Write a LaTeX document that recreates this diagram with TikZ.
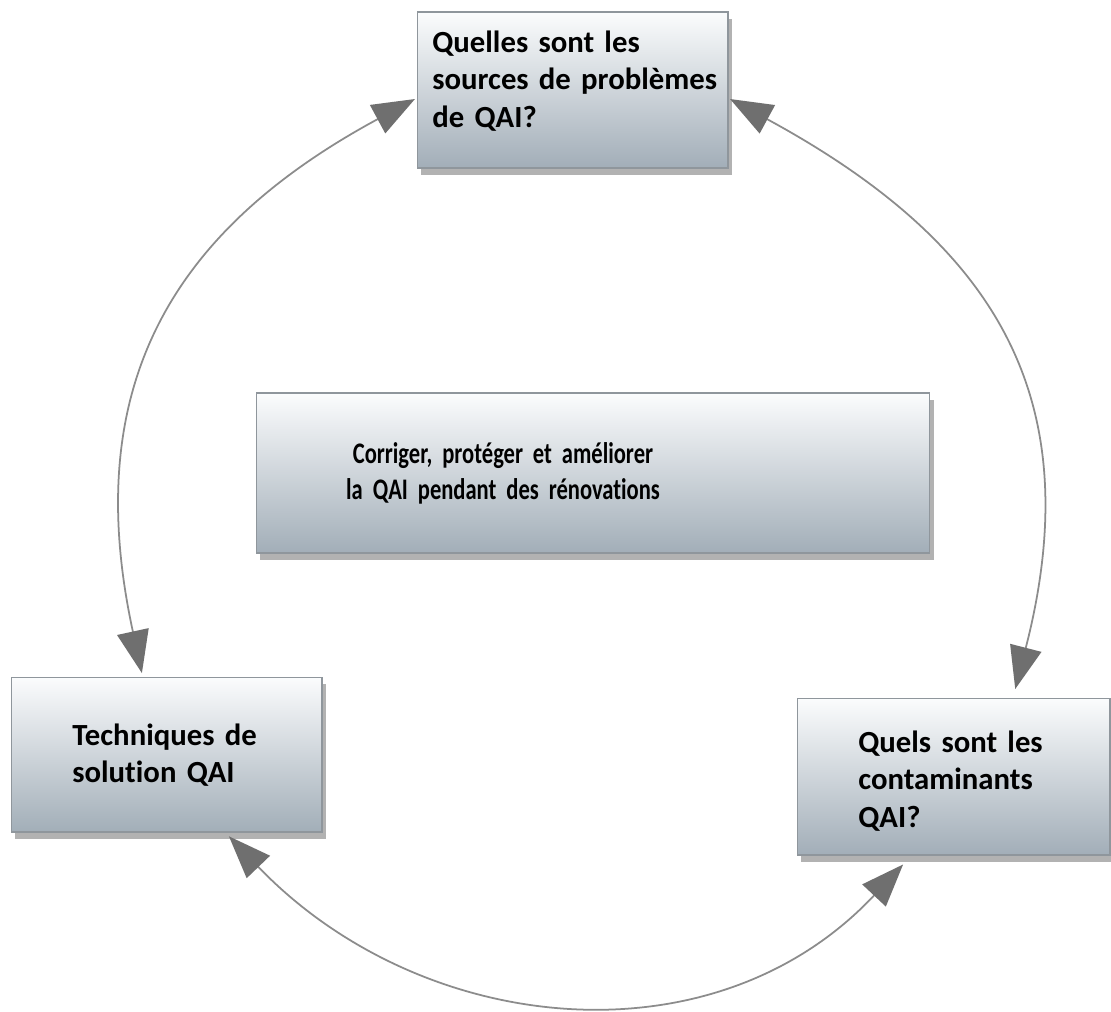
\documentclass[tikz,border=0pt]{standalone}
\usepackage{fontspec}
\setmainfont[Ligatures=NoCommon]{Carlito}
\newfontfamily\narrowfont[FakeStretch=0.755, WordSpace=0.7, Ligatures=NoCommon]{Carlito}
\usetikzlibrary{arrows.meta,shadows}
\definecolor{boxtop}{HTML}{FBFCFD}
\definecolor{boxbottom}{HTML}{A2AEB8}
\definecolor{boxline}{HTML}{8F969C}
\definecolor{arcline}{HTML}{8C8C8C}
\definecolor{tipgray}{HTML}{6F6F6F}

\begin{document}
\begin{tikzpicture}[
    x=0.02cm, y=-0.02cm,
    box/.style={rectangle, draw=boxline, line width=0.6pt,
                top color=boxtop, bottom color=boxbottom,
                drop shadow={shadow xshift=0.08cm, shadow yshift=-0.14cm,
                             fill=black, opacity=0.3},
                inner sep=0pt},
    boxtext/.style={anchor=base west, align=left, text width=6cm, inner sep=0pt,
                    font=\bfseries\fontsize{17.5}{21.6}\selectfont},
    cyc/.style={draw=arcline, line width=1pt,
                {Triangle[length=0.85cm, width=0.64cm, color=tipgray]}-{Triangle[length=0.85cm, width=0.64cm, color=tipgray]}}
]
\useasboundingbox[fill=white] (0,0) rectangle (1111,1011);

% the four boxes
\node[box, minimum width=6.22cm, minimum height=3.12cm] (sources) at (572.5,90) {};
\node[box, minimum width=13.48cm, minimum height=3.2cm] (goal) at (593,473) {};
\node[box, minimum width=6.22cm, minimum height=3.1cm] (solutions) at (166.5,754.5) {};
\node[box, minimum width=6.26cm, minimum height=3.14cm] (contam) at (953.5,776.5) {};

% texts
\node[boxtext] (sourcestext) at (432,52) {Quelles sont les\\sources de problèmes\\de QAI?};
\node[boxtext] (solutionstext) at (72,745) {Techniques de\\solution QAI};
\node[boxtext] (contamtext) at (858,752) {Quels sont les\\contaminants\\QAI?};
\node[anchor=base, align=center, text width=8cm, inner sep=0pt,
      font=\narrowfont\bfseries\fontsize{17}{20.6}\selectfont] (goaltext) at (503,463)
      {Corriger, protéger et améliorer\\la QAI pendant des rénovations};

% the cycle
\draw[cyc, shorten <=1pt, shorten >=2pt] (sources.183) .. controls +(-250,135) and +(-62,-285) .. (solutions.107);
\draw[cyc, shorten <=1pt, shorten >=5pt] (sources.357) .. controls +(267,145) and +(77,-300) .. (contam.53);
\draw[cyc, shorten <=3pt, shorten >=7pt] (solutions.307) .. controls +(196,204) and +(-198,211) .. (contam.242);
\end{tikzpicture}
\end{document}
